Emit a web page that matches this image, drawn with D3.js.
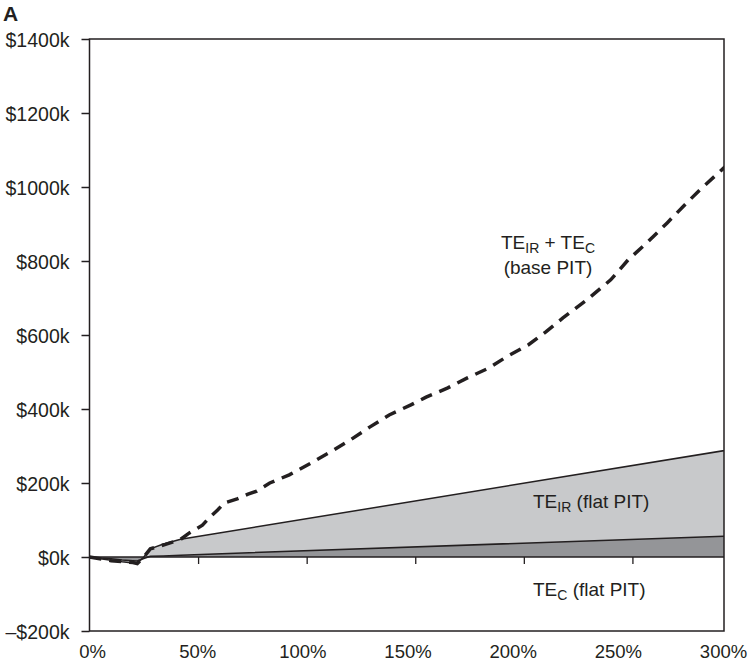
<!DOCTYPE html>
<html>
<head>
<meta charset="utf-8">
<script src="https://cdn.jsdelivr.net/npm/d3@7"></script>
<style>
  body { margin: 0; background: #fff; }
  text { font-family: "Liberation Sans", Arial, sans-serif; fill: #231f20; }
</style>
</head>
<body>
<script>
// values (x in %, y in $k)
var flatX = [0, 5, 10, 15, 20, 22, 25, 28, 34, 42, 300];
var teC = [0, -3, -5, -8, -10, -11, -4, 2, 3, 5, 58];
var teTotalFlat = [0, -5, -9, -13, -16, -17, 0, 22, 35, 48, 295];

var baseX = [0, 10, 20, 22, 25, 28, 35, 42, 46, 52, 55, 59, 62, 68, 73, 77, 83, 92, 102, 111, 120, 129, 138, 148,
             155, 165, 174, 184, 192, 202, 210, 218, 229, 240, 248, 257, 266, 275, 281, 292, 300];
var baseTotal = [0, -10, -15, -18, 0, 22, 34, 48, 65, 86, 105, 127, 146, 157, 170, 178, 200, 222, 254, 284, 316, 351,
                 384, 411, 432, 457, 484, 511, 541, 573, 608, 646, 695, 749, 803, 851, 903, 957, 992, 1051, 1094];

var yTicks = [-200, 0, 200, 400, 600, 800, 1000, 1200, 1400];
var xTicks = [0, 50, 100, 150, 200, 250, 300];

var svgWidth = 750, svgHeight = 665;
var plotLeft = 89.5, plotTop = 39, plotRight = 724, plotBottom = 631;

var svg = d3.select("body").append("svg")
    .attr("width", svgWidth)
    .attr("height", svgHeight);

var xScale = d3.scaleLinear().domain([0, 300]).range([plotLeft, 741]);
// tick labels in the figure are spread evenly across the frame
var xLabelScale = d3.scaleLinear().domain([0, 300]).range([92, 723]);
var yScale = d3.scaleLinear().domain([-200, 1400]).range([plotBottom, plotTop]);

svg.append("clipPath").attr("id", "plot")
  .append("rect")
    .attr("x", plotLeft).attr("y", plotTop)
    .attr("width", plotRight - plotLeft).attr("height", plotBottom - plotTop);

var flatData = flatX.map((x, i) => ({x: x, c: teC[i], t: teTotalFlat[i]}));
var baseData = baseX.map((x, i) => ({x: x, t: baseTotal[i]}));

var plot = svg.append("g").attr("clip-path", "url(#plot)");

plot.append("path")
    .datum(flatData)
    .attr("fill", "#c8c9cb")
    .attr("d", d3.area().x(d => xScale(d.x)).y0(yScale(0)).y1(d => yScale(d.t)));

plot.append("path")
    .datum(flatData)
    .attr("fill", "#949598")
    .attr("d", d3.area().x(d => xScale(d.x)).y0(yScale(0)).y1(d => yScale(d.c)));

plot.append("path")
    .datum(flatData)
    .attr("fill", "none").attr("stroke", "#231f20").attr("stroke-width", 1.5)
    .attr("d", d3.line().x(d => xScale(d.x)).y(d => yScale(d.t)));

plot.append("path")
    .datum(flatData)
    .attr("fill", "none").attr("stroke", "#231f20").attr("stroke-width", 1.5)
    .attr("d", d3.line().x(d => xScale(d.x)).y(d => yScale(d.c)));

plot.append("line")
    .attr("x1", plotLeft).attr("x2", plotRight)
    .attr("y1", yScale(0)).attr("y2", yScale(0))
    .attr("stroke", "#231f20").attr("stroke-width", 1.5);

plot.append("path")
    .datum(baseData)
    .attr("fill", "none").attr("stroke", "#231f20").attr("stroke-width", 3.5)
    .attr("stroke-dasharray", "12,8")
    .attr("d", d3.line().x(d => xScale(d.x)).y(d => yScale(d.t)));

// x ticks hang from the zero line
var xTickAxis = svg.append("g")
    .attr("transform", `translate(0, ${yScale(0)})`)
    .call(d3.axisBottom(xScale).tickValues([50, 100, 150, 200, 250]).tickSize(7).tickSizeOuter(0).tickFormat(""));
xTickAxis.select(".domain").remove();
xTickAxis.selectAll("line").attr("stroke", "#231f20").attr("stroke-width", 1.3);

var xLabelAxis = svg.append("g")
    .attr("transform", `translate(0, ${plotBottom})`)
    .call(d3.axisBottom(xLabelScale).tickValues(xTicks).tickSize(0).tickPadding(14).tickFormat(d => d + "%"));
xLabelAxis.select(".domain").remove();
xLabelAxis.selectAll("text").attr("font-size", "18.5px").attr("font-family", null);

var yAxis = svg.append("g")
    .attr("transform", `translate(${plotLeft}, 0)`)
    .call(d3.axisLeft(yScale).tickValues(yTicks).tickSize(8).tickSizeOuter(0).tickPadding(12)
      .tickFormat(d => (d < 0 ? "\u2013$" + (-d) : "$" + d) + "k"));
yAxis.select(".domain").remove();
yAxis.selectAll("line").attr("stroke", "#231f20").attr("stroke-width", 1.5);
yAxis.selectAll("text").attr("font-size", "19.5px").attr("font-family", null).attr("dy", "0.4em");

// frame
svg.append("rect")
    .attr("x", plotLeft).attr("y", plotTop)
    .attr("width", plotRight - plotLeft).attr("height", plotBottom - plotTop)
    .attr("fill", "none").attr("stroke", "#231f20").attr("stroke-width", 1.5);

svg.append("text")
    .attr("x", 3).attr("y", 21)
    .attr("font-size", "21px").attr("font-weight", "bold")
    .text("A");

function teLabel(x, y, parts, anchor) {
  var t = svg.append("text").attr("x", x).attr("y", y)
      .attr("font-size", "19px").attr("text-anchor", anchor || "start");
  parts.forEach(function(p) {
    var s = t.append("tspan").text(p[0]);
    if (p[1] === "sub") s.attr("font-size", "14px").attr("dy", 4);
    if (p[1] === "up") s.attr("dy", -4);
  });
  return t;
}

teLabel(548, 249, [["TE"], ["IR", "sub"], [" + TE", "up"], ["C", "sub"]], "middle");
svg.append("text").attr("x", 548).attr("y", 274).attr("font-size", "19px")
    .attr("text-anchor", "middle").text("(base PIT)");
teLabel(533, 508, [["TE"], ["IR", "sub"], [" (flat PIT)", "up"]]);
teLabel(533, 596, [["TE"], ["C", "sub"], [" (flat PIT)", "up"]]);
</script>
</body>
</html>
